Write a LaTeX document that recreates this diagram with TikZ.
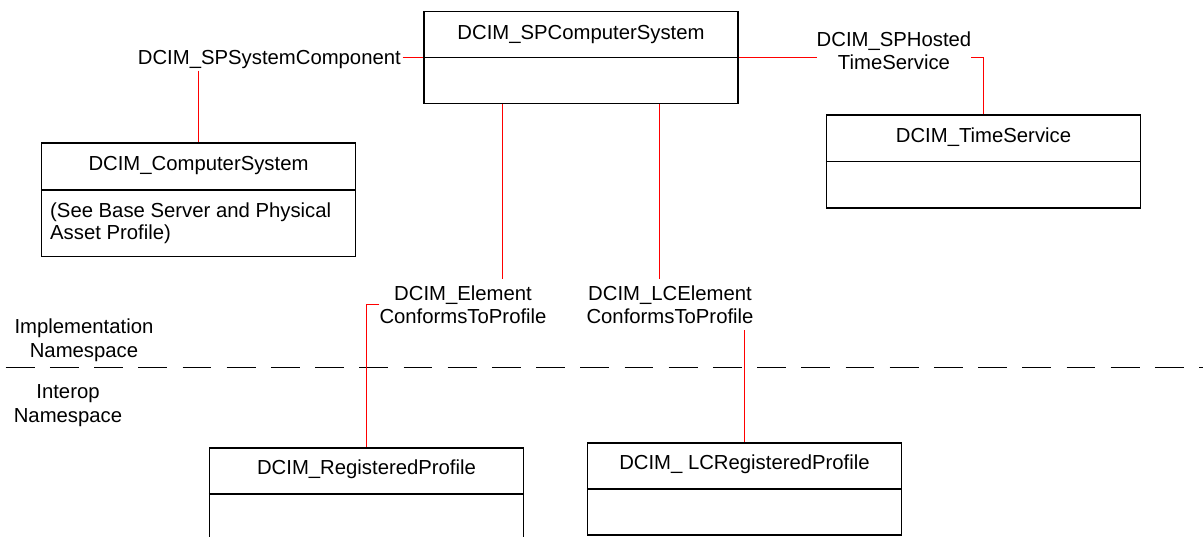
\documentclass[tikz,border=0pt]{standalone}
\usepackage{fontspec}
\setmainfont{Liberation Sans}
\begin{document}
\begin{tikzpicture}[x=1pt,y=-1pt,
  umlbox/.style={draw=black, line width=1.4pt, rectangle, inner sep=0pt, minimum width=314pt},
  divider/.style={draw=black, line width=1.4pt},
  rel/.style={draw=red, line width=1.25pt},
  lbl/.style={font=\fontsize{20.3}{23.4}\selectfont, inner sep=0pt, align=center, text height=14.6pt, text depth=0pt},
  lbltwo/.style={lbl, text height=38pt},
  nsline/.style={draw=black, line width=1.5pt, dash pattern=on 28.8pt off 15.4pt}
]
\useasboundingbox (0,0) rectangle (1203,537);
\clip (0,0) rectangle (1203,537);

% boxes
\node[umlbox, minimum height=92pt] (sp) at (581,57.5) {};
\node[umlbox, minimum height=113.7pt] (cs) at (198.5,199.85) {};
\node[umlbox, minimum height=93pt] (ts) at (983.5,161.5) {};
\node[umlbox, minimum height=92pt] (rp) at (366.5,494) {};
\node[umlbox, minimum height=92.3pt] (lc) at (744.5,489) {};

% dividers
\coordinate (csdiv) at (0,190);
\draw[divider] (sp.west) -- (sp.east);
\draw[divider] (cs.west |- csdiv) -- (cs.east |- csdiv);
\draw[divider] (ts.west) -- (ts.east);
\draw[divider] (rp.west) -- (rp.east);
\draw[divider] (lc.west) -- (lc.east);

% titles
\node[lbl] (spt) at (581,32) {DCIM\_SPComputerSystem};
\node[lbl] (cst) at (198.5,163) {DCIM\_ComputerSystem};
\node[lbl, anchor=west, align=left, font=\fontsize{20.3}{22.3}\selectfont, text height=36.9pt] (csb) at (50,221) {(See Base Server and Physical\\Asset Profile)};
\node[lbl] (tst) at (983.5,135) {DCIM\_TimeService};
\node[lbl] (rpt) at (366.5,467) {DCIM\_RegisteredProfile};
\node[lbl] (lct) at (744.5,462.3) {DCIM\_ LCRegisteredProfile};

% association labels
\node[lbl, anchor=east] (lA) at (401,57.5) {DCIM\_SPSystemComponent};
\node[lbltwo] (lS) at (894,51) {DCIM\_SPHosted\\TimeService};
\node[lbltwo] (lE) at (463,304.5) {DCIM\_Element\\ConformsToProfile};
\node[lbltwo] (lL) at (670,304.5) {DCIM\_LCElement\\ConformsToProfile};

% namespace labels
\node[lbltwo] (ns1) at (84,338.3) {Implementation\\Namespace};
\node[lbltwo] (ns2) at (68,403.3) {Interop\\Namespace};

% namespace divider
\coordinate (dl) at (5.7,367.7);
\coordinate (dr) at (1210,367.7);
\draw[nsline] (dl) -- (dr);

% connectors
\coordinate (a1) at (502.5,0);
\coordinate (a2) at (659.5,0);
\draw[rel, shorten <=1.5pt] (lA.east) -- (sp.west);
\draw[rel, shorten <=5.7pt] (lA.south -| cs.north) -- (cs.north);
\draw[rel] (sp.east) -- (sp.east -| lS.west);
\draw[rel] (lS.east |- sp.east) -| (ts.north);
\draw[rel, shorten >=6pt] (sp.south -| a1) -- (lE.north -| a1);
\draw[rel] (lE.west) -| (rp.north);
\draw[rel, shorten >=6pt] (sp.south -| a2) -- (lL.north -| a2);
\draw[rel, shorten <=6.7pt] (lL.south -| lc.north) -- (lc.north);
\end{tikzpicture}
\end{document}
